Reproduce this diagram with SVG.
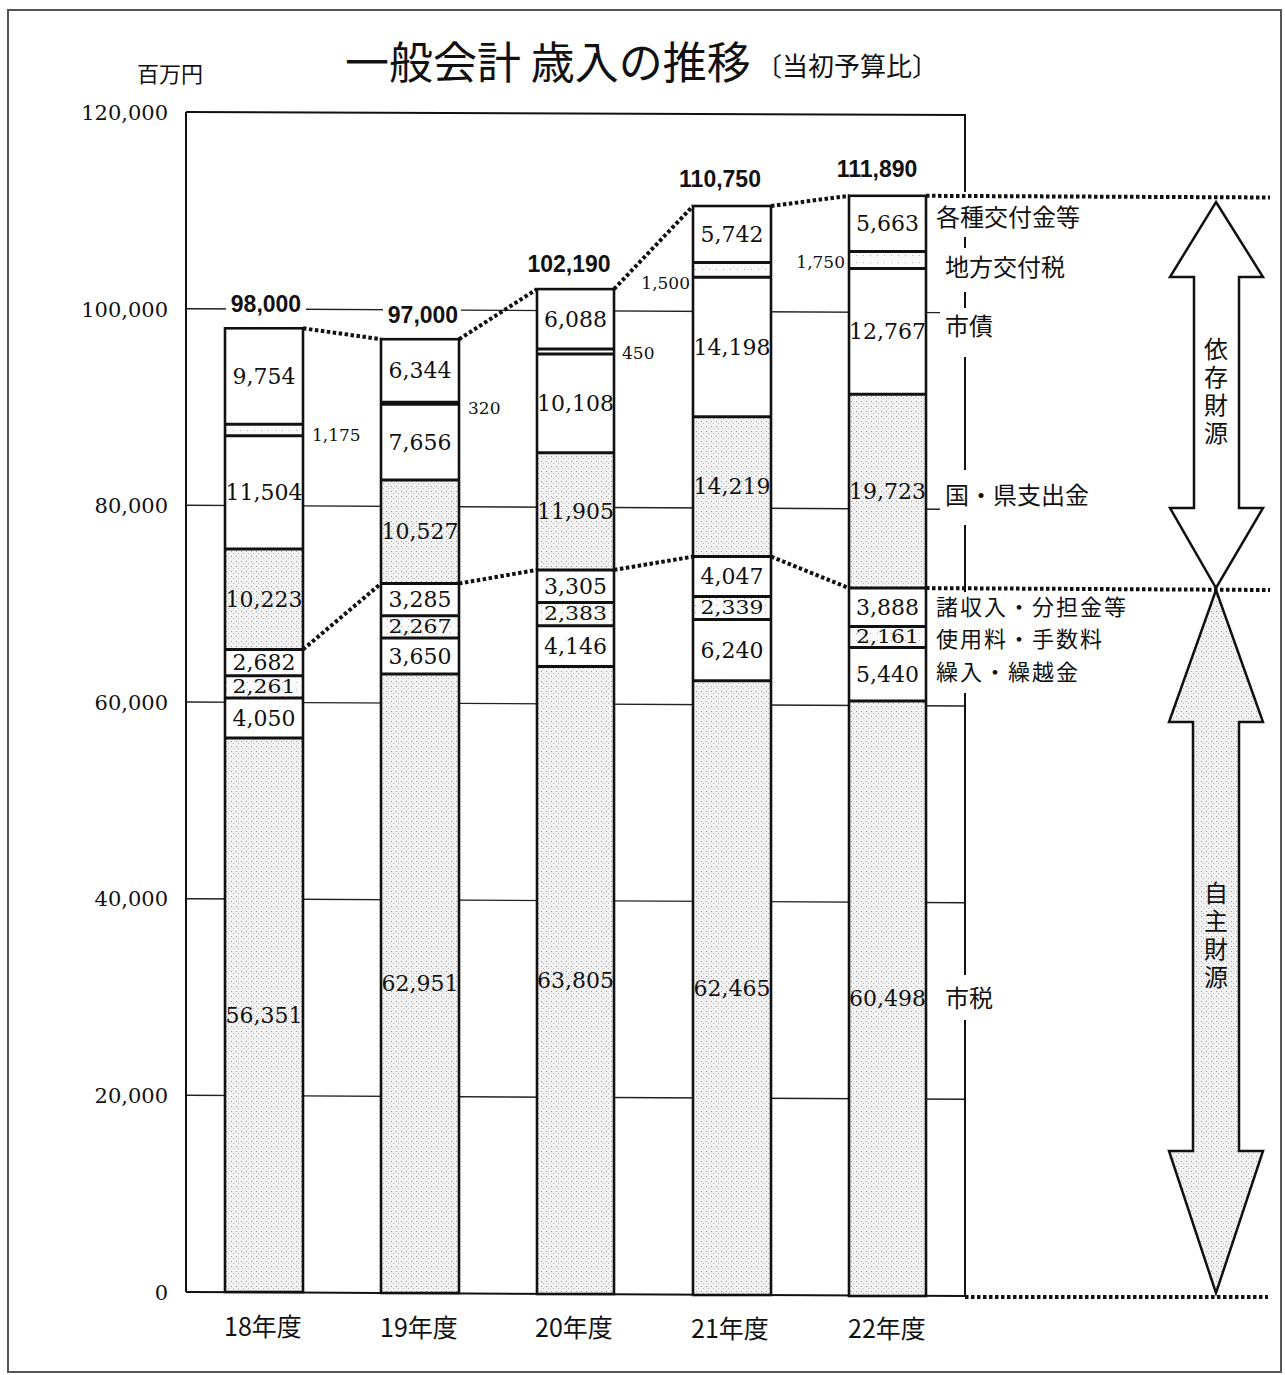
<svg xmlns="http://www.w3.org/2000/svg" width="1285" height="1375" viewBox="0 0 1285 1375">
<defs>
<pattern id="st" width="5" height="5" patternUnits="userSpaceOnUse"><rect width="5" height="5" fill="#f2f2f2"/><rect x="1" y="1" width="1" height="1" fill="#9a9a9a"/><rect x="3" y="3" width="1" height="1" fill="#b8b8b8"/></pattern>
<pattern id="lt" width="7" height="7" patternUnits="userSpaceOnUse"><rect width="7" height="7" fill="#fafafa"/><rect x="2" y="3" width="1" height="1" fill="#b0b0b0"/></pattern>
</defs>
<style>
.ln{stroke:#111;fill:none}
.ax{stroke:#111;stroke-width:2;fill:none}
.gr{stroke:#222;stroke-width:1.4;fill:none}
.sep{stroke:#111;stroke-width:3}
.out{stroke:#111;stroke-width:2.6;fill:none}
.w{fill:#fff}
.s{fill:url(#st)}
.l{fill:url(#lt)}
.dot{stroke:#111;stroke-width:4;stroke-dasharray:3.5 2.5;fill:none}
.num{font-family:"DejaVu Serif","Liberation Serif",serif;font-size:22px;fill:#111;text-anchor:middle}
.yl{font-family:"DejaVu Serif","Liberation Serif",serif;font-size:21px;fill:#111;text-anchor:end}
.sm{font-family:"DejaVu Serif","Liberation Serif",serif;font-size:17px;fill:#111}
.tot{font-family:"Liberation Sans",Arial,sans-serif;font-size:23px;font-weight:bold;fill:#111;text-anchor:middle}
.jp{font-family:"Noto Sans CJK JP","Noto Sans CJK SC",sans-serif;font-size:24px;fill:#111}
.jps{font-family:"Noto Sans CJK JP","Noto Sans CJK SC",sans-serif;font-size:22px;letter-spacing:2px;fill:#111}
.yr{font-family:"Noto Sans CJK JP","Noto Sans CJK SC",sans-serif;font-size:25px;fill:#111;text-anchor:middle}
.vt{font-family:"Noto Sans CJK JP","Noto Sans CJK SC",sans-serif;font-size:24px;fill:#111;writing-mode:vertical-rl;letter-spacing:4px}
.arr{stroke:#111;stroke-width:2.5;stroke-linejoin:miter}
</style>
<rect x="8" y="10" width="1273" height="1362" fill="#fff" stroke="#555" stroke-width="2"/>

<g id="title">
<text x="345" y="79" font-family="'Noto Sans CJK JP','Noto Sans CJK SC',sans-serif" font-size="44" fill="#111">一般会計 歳入の推移</text>
<text x="756" y="76" font-family="'Noto Sans CJK JP','Noto Sans CJK SC',sans-serif" font-size="26" fill="#111">〔当初予算比〕</text>
<text x="137" y="82" font-family="'Noto Sans CJK JP','Noto Sans CJK SC',sans-serif" font-size="22" fill="#111">百万円</text>
</g>

<g id="axes">
<line class="gr" x1="186" y1="1095.3" x2="965" y2="1099.3"/>
<line class="gr" x1="186" y1="898.7" x2="965" y2="902.7"/>
<line class="gr" x1="186" y1="702" x2="965" y2="706"/>
<line class="gr" x1="186" y1="505.3" x2="940" y2="509.2"/>
<line class="gr" x1="186" y1="308.7" x2="940" y2="312.6"/>
<line class="ax" x1="186" y1="112" x2="965" y2="115"/>
<line class="ax" x1="186" y1="112" x2="186" y2="1292"/>
<line class="ax" x1="186" y1="1292" x2="965" y2="1296"/>
<g class="ax">
<line x1="965" y1="114" x2="965" y2="192"/>
<line x1="965" y1="237" x2="965" y2="248"/>
<line x1="965" y1="292" x2="965" y2="308"/>
<line x1="965" y1="357" x2="965" y2="470"/>
<line x1="965" y1="525" x2="965" y2="592"/>
<line x1="965" y1="693" x2="965" y2="975"/>
<line x1="965" y1="1020" x2="965" y2="1296"/>
</g>
<text class="yl" x="168" y="120">120,000</text>
<text class="yl" x="168" y="317">100,000</text>
<text class="yl" x="168" y="513">80,000</text>
<text class="yl" x="168" y="710">60,000</text>
<text class="yl" x="168" y="906">40,000</text>
<text class="yl" x="168" y="1103">20,000</text>
<text class="yl" x="168" y="1300">0</text>
<text class="yr" x="263" y="1336">18年度</text>
<text class="yr" x="419" y="1337">19年度</text>
<text class="yr" x="574" y="1337">20年度</text>
<text class="yr" x="730" y="1338">21年度</text>
<text class="yr" x="887" y="1338">22年度</text>
</g>

<g id="bar-18">
<rect class="s" x="225" y="737.9" width="78" height="554.1"/>
<rect class="w" x="225" y="698.1" width="78" height="39.8"/>
<rect class="l" x="225" y="675.8" width="78" height="22.3"/>
<rect class="w" x="225" y="649.5" width="78" height="26.3"/>
<rect class="s" x="225" y="548.9" width="78" height="100.6"/>
<rect class="w" x="225" y="435.8" width="78" height="113.1"/>
<rect class="l" x="225" y="424.3" width="78" height="11.5"/>
<rect class="w" x="225" y="328.3" width="78" height="96"/>
<g class="sep"><line x1="225" y1="737.9" x2="303" y2="737.9"/><line x1="225" y1="698.1" x2="303" y2="698.1"/><line x1="225" y1="675.8" x2="303" y2="675.8"/><line x1="225" y1="649.5" x2="303" y2="649.5"/><line x1="225" y1="548.9" x2="303" y2="548.9"/><line x1="225" y1="435.8" x2="303" y2="435.8"/><line x1="225" y1="424.3" x2="303" y2="424.3"/></g>
<rect class="out" x="225" y="328.3" width="78" height="963.7"/>
<text class="num" x="264" y="384">9,754</text>
<text class="num" x="264" y="500">11,504</text>
<text class="num" x="264" y="607">10,223</text>
<text class="num" x="264" y="670">2,682</text>
<text class="num" transform="translate(264,687) scale(1,0.85)" y="7.5">2,261</text>
<text class="num" x="264" y="725.5">4,050</text>
<text class="num" x="264" y="1022.5">56,351</text>
<text class="sm" x="312" y="441">1,175</text>
<rect class="w" x="226" y="293" width="80" height="22"/>
<text class="tot" x="266" y="312">98,000</text>
</g>

<g id="bar-19">
<rect class="s" x="381" y="674" width="78" height="619"/>
<rect class="w" x="381" y="638.1" width="78" height="35.9"/>
<rect class="l" x="381" y="615.8" width="78" height="22.3"/>
<rect class="w" x="381" y="583.5" width="78" height="32.3"/>
<rect class="s" x="381" y="480" width="78" height="103.5"/>
<rect class="w" x="381" y="404.7" width="78" height="75.3"/>
<rect class="w" x="381" y="339.2" width="78" height="65.5"/>
<g class="sep"><line x1="381" y1="674" x2="459" y2="674"/><line x1="381" y1="638.1" x2="459" y2="638.1"/><line x1="381" y1="615.8" x2="459" y2="615.8"/><line x1="381" y1="583.5" x2="459" y2="583.5"/><line x1="381" y1="480" x2="459" y2="480"/><line x1="381" y1="403.2" x2="459" y2="403.2" stroke-width="5"/></g>
<rect class="out" x="381" y="339.2" width="78" height="953.8"/>
<text class="num" x="420" y="378">6,344</text>
<text class="num" x="420" y="450">7,656</text>
<text class="num" x="420" y="539">10,527</text>
<text class="num" x="420" y="607">3,285</text>
<text class="num" transform="translate(420,627) scale(1,0.85)" y="7.5">2,267</text>
<text class="num" x="420" y="663.5">3,650</text>
<text class="num" x="420" y="991">62,951</text>
<text class="sm" x="468" y="414">320</text>
<rect class="w" x="383" y="304" width="78" height="22"/>
<text class="tot" x="423" y="323">97,000</text>
</g>

<g id="bar-20">
<rect class="s" x="537" y="666.6" width="77" height="627.4"/>
<rect class="w" x="537" y="625.8" width="77" height="40.8"/>
<rect class="l" x="537" y="602.4" width="77" height="23.4"/>
<rect class="w" x="537" y="569.9" width="77" height="32.5"/>
<rect class="s" x="537" y="452.8" width="77" height="117.1"/>
<rect class="w" x="537" y="353.4" width="77" height="99.4"/>
<rect class="w" x="537" y="289.1" width="77" height="64.3"/>
<g class="sep"><line x1="537" y1="666.6" x2="614" y2="666.6"/><line x1="537" y1="625.8" x2="614" y2="625.8"/><line x1="537" y1="602.4" x2="614" y2="602.4"/><line x1="537" y1="569.9" x2="614" y2="569.9"/><line x1="537" y1="452.8" x2="614" y2="452.8"/><line x1="537" y1="354" x2="614" y2="354"/><line x1="537" y1="349" x2="614" y2="349"/></g>
<rect class="out" x="537" y="289.1" width="77" height="1004.9"/>
<text class="num" x="575.5" y="326.5">6,088</text>
<text class="num" x="575.5" y="410.5">10,108</text>
<text class="num" x="575.5" y="519">11,905</text>
<text class="num" x="575.5" y="593.5">3,305</text>
<text class="num" transform="translate(575.5,614.1) scale(1,0.85)" y="7.5">2,383</text>
<text class="num" x="575.5" y="653.5">4,146</text>
<text class="num" x="575.5" y="988">63,805</text>
<text class="sm" x="622" y="359">450</text>
<text class="tot" x="569" y="272">102,190</text>
</g>

<g id="bar-21">
<rect class="s" x="693" y="680.8" width="78" height="614.2"/>
<rect class="w" x="693" y="619.4" width="78" height="61.4"/>
<rect class="l" x="693" y="596.4" width="78" height="23"/>
<rect class="w" x="693" y="556.6" width="78" height="39.8"/>
<rect class="s" x="693" y="416.8" width="78" height="139.8"/>
<rect class="w" x="693" y="277.2" width="78" height="139.6"/>
<rect class="l" x="693" y="262.4" width="78" height="14.8"/>
<rect class="w" x="693" y="206" width="78" height="56.4"/>
<g class="sep"><line x1="693" y1="680.8" x2="771" y2="680.8"/><line x1="693" y1="619.4" x2="771" y2="619.4"/><line x1="693" y1="596.4" x2="771" y2="596.4"/><line x1="693" y1="556.6" x2="771" y2="556.6"/><line x1="693" y1="416.8" x2="771" y2="416.8"/><line x1="693" y1="277.2" x2="771" y2="277.2"/><line x1="693" y1="262.4" x2="771" y2="262.4"/></g>
<rect class="out" x="693" y="206" width="78" height="1089"/>
<text class="num" x="732" y="241.5">5,742</text>
<text class="num" x="732" y="354.5">14,198</text>
<text class="num" x="732" y="494">14,219</text>
<text class="num" x="732" y="584">4,047</text>
<text class="num" transform="translate(732,607.9) scale(1,0.85)" y="7.5">2,339</text>
<text class="num" x="732" y="657.5">6,240</text>
<text class="num" x="732" y="995.5">62,465</text>
<text class="sm" x="690" y="289" text-anchor="end">1,500</text>
<text class="tot" x="720" y="187">110,750</text>
</g>

<g id="bar-22">
<rect class="s" x="849" y="701.1" width="77" height="594.9"/>
<rect class="w" x="849" y="647.6" width="77" height="53.5"/>
<rect class="l" x="849" y="626.4" width="77" height="21.2"/>
<rect class="w" x="849" y="588.1" width="77" height="38.3"/>
<rect class="s" x="849" y="394.2" width="77" height="193.9"/>
<rect class="w" x="849" y="268.6" width="77" height="125.6"/>
<rect class="l" x="849" y="251.4" width="77" height="17.2"/>
<rect class="w" x="849" y="195.8" width="77" height="55.6"/>
<g class="sep"><line x1="849" y1="701.1" x2="926" y2="701.1"/><line x1="849" y1="647.6" x2="926" y2="647.6"/><line x1="849" y1="626.4" x2="926" y2="626.4"/><line x1="849" y1="588.1" x2="926" y2="588.1"/><line x1="849" y1="394.2" x2="926" y2="394.2"/><line x1="849" y1="268.6" x2="926" y2="268.6"/><line x1="849" y1="251.4" x2="926" y2="251.4"/></g>
<rect class="out" x="849" y="195.8" width="77" height="1100.2"/>
<text class="num" x="887.5" y="231">5,663</text>
<text class="num" x="887.5" y="339">12,767</text>
<text class="num" x="887.5" y="498.5">19,723</text>
<text class="num" x="887.5" y="615">3,888</text>
<text class="num" transform="translate(887.5,637) scale(1,0.85)" y="7.5">2,161</text>
<text class="num" x="887.5" y="682">5,440</text>
<text class="num" x="887.5" y="1006">60,498</text>
<text class="sm" x="845" y="268" text-anchor="end">1,750</text>
<text class="tot" x="877" y="177">111,890</text>
</g>

<g id="connectors">
<polyline class="dot" points="303,328.3 381,339.2"/>
<polyline class="dot" points="459,339.2 537,289.1"/>
<polyline class="dot" points="614,289.1 693,206"/>
<polyline class="dot" points="771,206 849,195.8"/>
<polyline class="dot" points="926,195.8 1270,197.5"/>
<polyline class="dot" points="303,649.5 381,583.5"/>
<polyline class="dot" points="459,583.5 537,569.9"/>
<polyline class="dot" points="614,569.9 693,556.6"/>
<polyline class="dot" points="771,556.6 849,588.1"/>
<polyline class="dot" points="926,588.1 1270,590"/>
<polyline class="dot" points="965,1297 1268,1297"/>
</g>

<g id="legend">
<text class="jp" x="936" y="226">各種交付金等</text>
<text class="jp" x="945" y="276">地方交付税</text>
<text class="jp" x="945" y="335">市債</text>
<text class="jp" x="945" y="504">国・県支出金</text>
<text class="jps" x="936" y="615">諸収入・分担金等</text>
<text class="jps" x="936" y="647">使用料・手数料</text>
<text class="jps" x="936" y="680">繰入・繰越金</text>
<text class="jp" x="945" y="1007">市税</text>
</g>

<g id="arrow-izon">
<polygon class="arr" fill="#fff" points="1216,202 1263,277 1239,277 1239,508 1263,508 1216,588 1170,508 1194,508 1194,277 1170,277"/>
<text class="vt" x="1216" y="337">依存財源</text>
</g>

<g id="arrow-jishu">
<polygon class="arr" fill="url(#st)" points="1216,590 1263,722 1239,722 1239,1151 1263,1151 1216,1293 1169,1151 1193,1151 1193,722 1169,722"/>
<text class="vt" x="1216" y="881">自主財源</text>
</g>
</svg>
